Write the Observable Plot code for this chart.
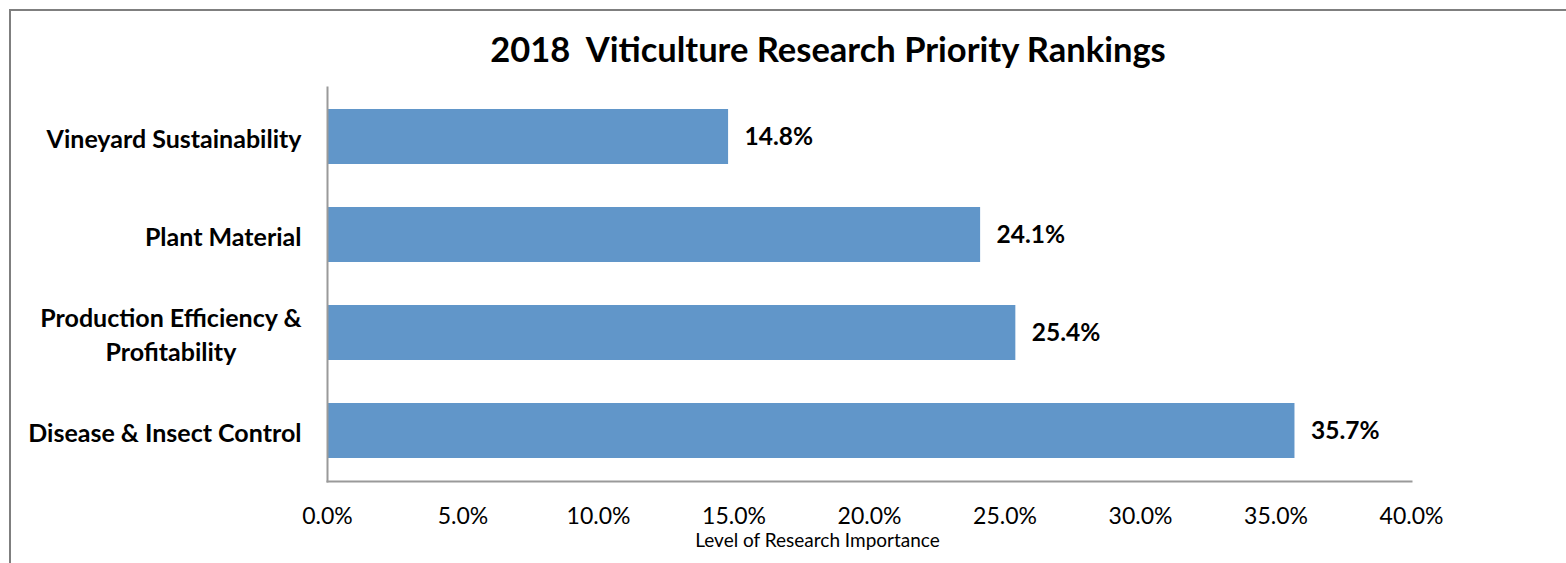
<!DOCTYPE html>
<html>
<head>
<meta charset="utf-8">
<script src="https://cdn.jsdelivr.net/npm/d3@7"></script>
<script src="https://cdn.jsdelivr.net/npm/@observablehq/plot@0.6"></script>
<style>
  html, body { margin: 0; padding: 0; background: #fff; }
  body { width: 1566px; height: 563px; position: relative; overflow: hidden; font-family: Lato, "Open Sans", sans-serif; }
  #frame { position: absolute; left: 9px; top: 9px; width: 1700px; height: 700px; border-left: 2px solid #7f7f7f; border-top: 2px solid #7f7f7f; }
  #title { position: absolute; left: 0; top: 29px; width: 1656px; text-align: center; font-weight: bold; font-size: 34.5px; line-height: 40px; color: #000; white-space: pre; }
  #chart { position: absolute; left: 0; top: 0; }
</style>
</head>
<body>
<div id="frame"></div>
<div id="title">2018  Viticulture Research Priority Rankings</div>
<div id="chart"></div>
<script>
const categories = ["Vineyard Sustainability", "Plant Material", "Production Efficiency &\nProfitability", "Disease & Insect Control"];
const values = [14.8, 24.1, 25.4, 35.7];
const xTicks = [0, 5, 10, 15, 20, 25, 30, 35, 40];
const xLabel = "Level of Research Importance";

const data = categories.map((c, i) => ({category: c, value: values[i]}));

const chart = Plot.plot({
  width: 1566,
  height: 563,
  marginLeft: 327,
  marginRight: 155,
  marginTop: 87,
  marginBottom: 82,
  style: {fontFamily: "Lato, 'Open Sans', sans-serif", color: "#000", background: "transparent", overflow: "visible"},
  x: {domain: [0, 40], ticks: xTicks, tickFormat: d => d.toFixed(1) + "%"},
  y: {domain: categories, paddingInner: 0.437, paddingOuter: 0.2185},
  marks: [
    Plot.barX(data, {x: "value", y: "category", fill: "#6196C9"}),
    Plot.frame({anchor: "left", stroke: "#9a9a9a", strokeWidth: 2}),
    Plot.frame({anchor: "bottom", stroke: "#9a9a9a", strokeWidth: 2}),
    Plot.axisX({ticks: xTicks, tickSize: 0, tickPadding: 26, fontSize: 23, label: null, tickFormat: d => d.toFixed(1) + "%"}),
    Plot.axisY({tickSize: 0, tickPadding: 26, fontSize: 25, fontWeight: "bold", label: null, lineHeight: 1.36}),
    Plot.text(data, {x: "value", y: "category", text: d => d.value.toFixed(1) + "%", textAnchor: "start", dx: 16, fontSize: 24.5, fontWeight: "bold", fill: "#000"}),
    Plot.text([xLabel], {frameAnchor: "bottom", dx: -52, dy: 65, fontSize: 19, fill: "#000"})
  ]
});
document.getElementById("chart").appendChild(chart);

// Center the lines of multi-line category labels (as in the original)
d3.select(chart).selectAll("g[aria-label='y-axis tick label'] text").each(function() {
  const tspans = d3.select(this).selectAll("tspan");
  if (tspans.size() > 1) {
    let maxLen = 0;
    tspans.each(function() { maxLen = Math.max(maxLen, this.getComputedTextLength()); });
    tspans.attr("x", -maxLen / 2).attr("text-anchor", "middle");
  }
});
</script>
</body>
</html>
